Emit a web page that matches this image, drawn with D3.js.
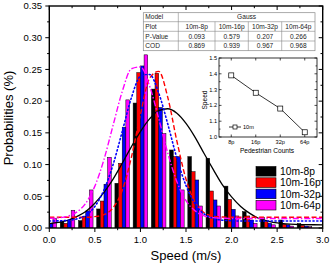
<!DOCTYPE html>
<html><head><meta charset="utf-8">
<script src="https://cdn.jsdelivr.net/npm/d3@7/dist/d3.min.js"></script>
<style>
body{margin:0;background:#fff}
svg{display:block;font-family:"Liberation Sans",Arial,sans-serif}
</style></head>
<body><svg id="c" width="332" height="265"></svg>
<script>
// ---------- data ----------
const series = ["10m-8p","10m-16p","10m-32p","10m-64p"];
const bins = [0.0,0.2,0.4,0.6,0.8,1.0,1.2,1.4,1.6,1.8,2.0,2.2,2.4,2.6,2.8];
const p8  = [0.005,0.010,0.0116,0.030,0.0705,0.197,0.219,0.123,0.1125,0.110,0.066,0.0258,0.017,0.0126,0.007];
const p16 = [0.005,0.0074,0.018,0.0425,0.102,0.245,0.244,0.1125,0.0888,0.0583,0.045,0.019,0.010,0.006,0.004];
const p32 = [0.0074,0.0116,0.027,0.069,0.159,0.2555,0.190,0.1125,0.0757,0.0442,0.0295,0.0126,0.0074,0.005,0.003];
const p64 = [0.015,0.028,0.060,0.1115,0.202,0.273,0.149,0.060,0.0347,0.0347,0.019,0.0074,0.005,0.003,0.002];

const fitX = [0,0.1,0.2,0.3,0.4,0.5,0.6,0.7,0.8,0.9,1.0,1.1,1.2,1.3,1.4,1.5,1.6,1.7,1.8,1.9,2.0,2.1,2.2,2.3,2.4,2.5,2.6,2.7,2.8,2.9,3.0];
const fit8  = [0.007,0.009,0.012,0.018,0.026,0.039,0.056,0.077,0.102,0.128,0.152,0.172,0.185,0.188,0.181,0.165,0.143,0.117,0.092,0.068,0.049,0.034,0.023,0.015,0.011,0.008,0.0065,0.0057,0.0053,0.0051,0.005];
const fit16 = [0.017,0.017,0.017,0.017,0.017,0.018,0.021,0.032,0.059,0.111,0.179,0.236,0.247,0.206,0.137,0.077,0.040,0.024,0.0186,0.0173,0.017,0.017,0.017,0.017,0.017,0.017,0.017,0.017,0.017,0.017,0.017];
const fit32 = [0.011,0.0113,0.012,0.0143,0.020,0.034,0.060,0.100,0.152,0.205,0.239,0.242,0.213,0.164,0.110,0.067,0.038,0.022,0.015,0.0123,0.0114,0.011,0.011,0.011,0.011,0.011,0.011,0.011,0.011,0.011,0.011];
const fit64 = [0.0153,0.016,0.0184,0.025,0.039,0.066,0.108,0.162,0.215,0.251,0.254,0.224,0.173,0.118,0.073,0.043,0.027,0.019,0.0163,0.0154,0.015,0.015,0.015,0.015,0.015,0.015,0.015,0.015,0.015,0.015,0.015];

const xTicks = [0.0,0.5,1.0,1.5,2.0,2.5,3.0];
const yTicks = [0.00,0.05,0.10,0.15,0.20,0.25,0.30,0.35];

const tableHead = ["Model","Gauss"];
const tablePlot = ["Plot","10m-8p","10m-16p","10m-32p","10m-64p"];
const tablePV   = ["P-Value","0.093","0.579","0.207","0.266"];
const tableCOD  = ["COD","0.869","0.939","0.967","0.968"];

const insetCats = ["8p","16p","32p","64p"];
const insetSpeed = [1.39,1.28,1.18,1.03];
const insetYTicks = [1.0,1.1,1.2,1.3,1.4,1.5];

// ---------- chart ----------
const svg = d3.select("#c");
const L=49.3,R=322.7,T=6,B=228;
const x = d3.scaleLinear().domain([0,3]).range([L,R]);
const y = d3.scaleLinear().domain([0,0.35]).range([B,T]);
const colors = ["#000000","#ff0000","#0000ff","#ff00ff"];
const inner = d3.scaleBand().domain(series).range([-0.08,0.08]);

svg.append("clipPath").attr("id","pc").append("rect").attr("x",L).attr("y",T).attr("width",R-L).attr("height",B-T);

const vals=[p8,p16,p32,p64];
const barG = svg.append("g").attr("clip-path","url(#pc)");
series.forEach((s,si)=>{
  barG.selectAll(null).data(bins.map((b,i)=>({b,v:vals[si][i]}))).enter().append("rect")
    .attr("x",d=>x(d.b+inner(s)))
    .attr("width",d=>x(d.b+inner(s)+inner.bandwidth())-x(d.b+inner(s)))
    .attr("y",d=>y(d.v)).attr("height",d=>y(0)-y(d.v))
    .attr("fill",colors[si]).attr("stroke","#000").attr("stroke-width",0.5);
});

// fit curves
const fits=[fit8,fit16,fit32,fit64];
const dashes=[null,"5,2.5","1.2,2.6","6,2,1.5,2"];
const widths=[1.3,1.4,1.6,1.4];
const line=d3.line().x((d,i)=>x(fitX[i])).y(d=>y(d)).curve(d3.curveMonotoneX);
const curveG=svg.append("g").attr("clip-path","url(#pc)");
fits.forEach((f,i)=>{
  curveG.append("path").attr("d",line(f)).attr("fill","none").attr("stroke",colors[i])
    .attr("stroke-width",widths[i]).attr("stroke-dasharray",dashes[i]).attr("stroke-linecap",i==2?"round":"butt");
});

// axes
const minorX=d3.range(0,3.001,0.25), minorY=d3.range(0,0.3501,0.025);
const ax=svg.append("g").attr("stroke","#000");
function ticks(vals,isX,pos,dir,maj){
  vals.forEach(v=>{
    const major=Math.abs(Math.round(v/maj)*maj-v)<1e-6;
    const len=major?4:2.2;
    if(isX){const px=x(v);ax.append("line").attr("x1",px).attr("x2",px).attr("y1",pos).attr("y2",pos+dir*len).attr("stroke-width",1);}
    else{const py=y(v);ax.append("line").attr("y1",py).attr("y2",py).attr("x1",pos).attr("x2",pos+dir*len).attr("stroke-width",1);}
  });
}
ticks(minorX,true,B,1,0.5);
ticks(minorX,true,T,1,0.5);
ticks(minorY,false,L,-1,0.05);
ticks(minorY,false,R,-1,0.05);
svg.append("rect").attr("x",L).attr("y",T).attr("width",R-L).attr("height",B-T).attr("fill","none").attr("stroke","#000").attr("stroke-width",1.4);

svg.append("g").selectAll("text").data(xTicks).enter().append("text")
  .attr("x",d=>x(d)).attr("y",243).attr("text-anchor","middle").attr("font-size",9.5).text(d=>d.toFixed(1));
svg.append("g").selectAll("text").data(yTicks).enter().append("text")
  .attr("x",42).attr("y",d=>y(d)+3.3).attr("text-anchor","end").attr("font-size",9.5).text(d=>d.toFixed(2));

svg.append("text").attr("transform","translate(13,118) rotate(-90)").attr("text-anchor","middle").attr("font-size",13).text("Probabilities (%)");
svg.append("text").attr("x",186).attr("y",259.5).attr("text-anchor","middle").attr("font-size",13).text("Speed (m/s)");

// legend
const lg=svg.append("g");
series.forEach((s,i)=>{
  const yy=166.5+i*11.3;
  lg.append("rect").attr("x",256).attr("y",yy).attr("width",20).attr("height",9.6).attr("fill",colors[i]).attr("stroke","#000").attr("stroke-width",0.6);
  lg.append("text").attr("x",280).attr("y",yy+8.6).attr("font-size",10.3).text(s);
});

// table
const tg=svg.append("g");
const tx=[143.3,178.3,215,248.3,281.7,315], ty=[12.7,21.7,31.3,41,50.7];
tg.append("rect").attr("x",tx[0]).attr("y",ty[0]).attr("width",tx[5]-tx[0]).attr("height",ty[4]-ty[0]).attr("fill","#fff").attr("stroke","#888").attr("stroke-width",0.7);
for(let r=1;r<4;r++) tg.append("line").attr("x1",tx[0]).attr("x2",tx[5]).attr("y1",ty[r]).attr("y2",ty[r]).attr("stroke","#888").attr("stroke-width",0.6);
tg.append("line").attr("x1",tx[1]).attr("x2",tx[1]).attr("y1",ty[0]).attr("y2",ty[4]).attr("stroke","#888").attr("stroke-width",0.6);
for(let c=2;c<5;c++) tg.append("line").attr("x1",tx[c]).attr("x2",tx[c]).attr("y1",ty[1]).attr("y2",ty[4]).attr("stroke","#888").attr("stroke-width",0.6);
const fs=6.6;
tg.append("text").attr("x",tx[0]+2).attr("y",ty[1]-2.3).attr("font-size",fs).attr("fill","#222").text(tableHead[0]);
tg.append("text").attr("x",(tx[1]+tx[5])/2).attr("y",ty[1]-2.3).attr("font-size",fs).attr("fill","#222").attr("text-anchor","middle").text(tableHead[1]);
[tablePlot,tablePV,tableCOD].forEach((row,r)=>{
  row.forEach((t,c)=>{
    tg.append("text").attr("x",c==0?tx[0]+2:(tx[c]+tx[c+1])/2).attr("y",ty[r+2]-2.3)
      .attr("text-anchor",c==0?"start":"middle").attr("font-size",fs).attr("fill","#222").text(t);
  });
});

// inset
const iL=219,iR=317,iT=58,iB=137;
const ix=d3.scalePoint().domain(insetCats).range([iL,iR]).padding(0.5);
const iy=d3.scaleLinear().domain([1.0,1.5]).range([iB,iT]);
const ig=svg.append("g");
ig.append("rect").attr("x",iL).attr("y",iT).attr("width",iR-iL).attr("height",iB-iT).attr("fill","#fff").attr("stroke","#000").attr("stroke-width",0.8);
insetCats.forEach(c=>{
  ig.append("line").attr("x1",ix(c)).attr("x2",ix(c)).attr("y1",iB).attr("y2",iB-2.5).attr("stroke","#000").attr("stroke-width",0.7);
  ig.append("line").attr("x1",ix(c)).attr("x2",ix(c)).attr("y1",iT).attr("y2",iT+2.5).attr("stroke","#000").attr("stroke-width",0.7);
});
d3.range(1.0,1.5001,0.05).forEach(v=>{
  const maj=Math.abs(Math.round(v*10)-v*10)<1e-6, len=maj?2.5:1.5;
  ig.append("line").attr("x1",iL).attr("x2",iL+len).attr("y1",iy(v)).attr("y2",iy(v)).attr("stroke","#000").attr("stroke-width",0.7);
  ig.append("line").attr("x1",iR).attr("x2",iR-len).attr("y1",iy(v)).attr("y2",iy(v)).attr("stroke","#000").attr("stroke-width",0.7);
});
ig.selectAll(".iyl").data(insetYTicks).enter().append("text").attr("x",iL-2).attr("y",d=>iy(d)+2).attr("text-anchor","end").attr("font-size",5.6).text(d=>d.toFixed(1));
ig.selectAll(".ixl").data(insetCats).enter().append("text").attr("x",d=>ix(d)).attr("y",144).attr("text-anchor","middle").attr("font-size",5.6).text(d=>d);
ig.append("text").attr("x",267).attr("y",153).attr("text-anchor","middle").attr("font-size",6.6).text("Pedestrian Counts");
ig.append("text").attr("transform","translate(207,100) rotate(-90)").attr("text-anchor","middle").attr("font-size",6.6).text("Speed");
ig.append("path").attr("d",d3.line().x((d,i)=>ix(insetCats[i])).y(d=>iy(d))(insetSpeed)).attr("fill","none").attr("stroke","#000").attr("stroke-width",0.8);
ig.selectAll(".sq").data(insetSpeed).enter().append("rect").attr("x",(d,i)=>ix(insetCats[i])-2.5).attr("y",d=>iy(d)-2.5).attr("width",5).attr("height",5).attr("fill","#fff").attr("stroke","#000").attr("stroke-width",0.7);
ig.append("line").attr("x1",229).attr("x2",241).attr("y1",127).attr("y2",127).attr("stroke","#000").attr("stroke-width",0.8);
ig.append("rect").attr("x",233).attr("y",125).attr("width",4).attr("height",4).attr("fill","#fff").attr("stroke","#000").attr("stroke-width",0.7);
ig.append("text").attr("x",243).attr("y",129).attr("font-size",5.6).text("10m");
</script></body></html>
